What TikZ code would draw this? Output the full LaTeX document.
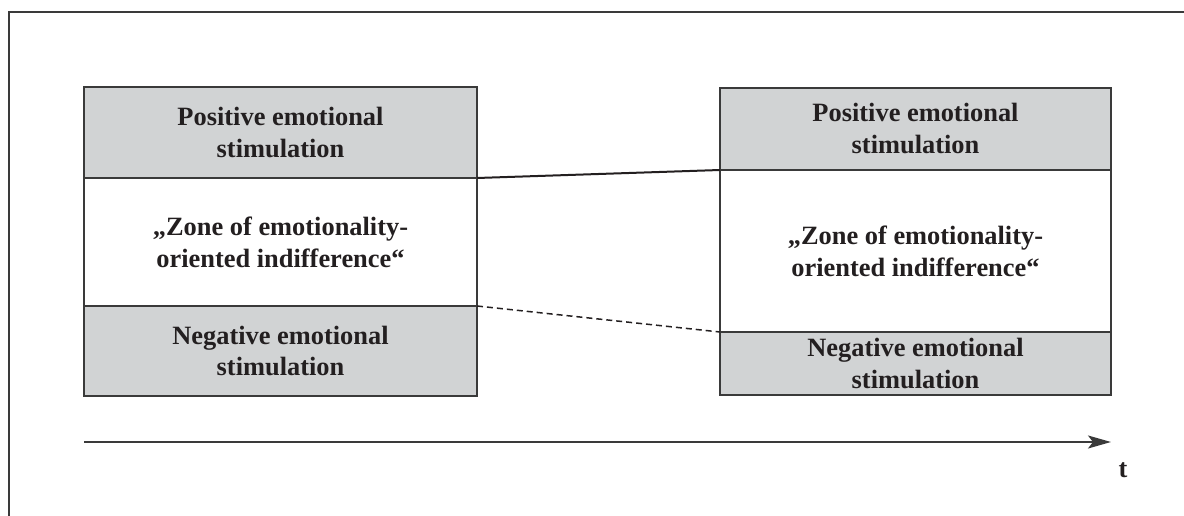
\documentclass[tikz,border=0pt]{standalone}
\usepackage{fontspec}
\setmainfont{Liberation Serif}
\usetikzlibrary{arrows.meta}
\definecolor{zonegray}{HTML}{D1D3D4}
\definecolor{edgegray}{HTML}{3A3A3A}
\definecolor{ink}{HTML}{231F20}
\tikzset{
  region/.style={draw=edgegray, line width=1.5pt, inner sep=0pt, outer sep=0pt,
    align=center, text=ink, font=\bfseries\fontsize{26.4}{32}\selectfont},
  stim/.style={region, fill=zonegray},
  zone/.style={region, fill=white},
  frameline/.style={draw=edgegray, line width=2pt},
  link/.style={draw=ink, line width=2pt},
  dlink/.style={draw=ink, line width=1.5pt, dash pattern=on 6pt off 4pt},
  timeaxis/.style={draw=edgegray, line width=2pt, -{Stealth[length=23pt,width=13pt,inset=5pt]}},
}
\begin{document}
\begin{tikzpicture}[x=1pt,y=-1pt]
\useasboundingbox (0,0) rectangle (1184,516);
\draw[frameline] (9,516) -- (9,12) -- (1184,12);
% left column
\node[stim, minimum width=393pt, minimum height=91pt] (lp) at (280.5,132.5) {Positive emotional\\stimulation};
\node[zone, minimum width=393pt, minimum height=128pt] (lz) at (280.5,242) {„Zone of emotionality-\\oriented indifference“};
\node[stim, minimum width=393pt, minimum height=90pt] (ln) at (280.5,351) {Negative emotional\\stimulation};
% right column
\node[stim, minimum width=391pt, minimum height=82pt] (rp) at (915.5,129) {Positive emotional\\stimulation};
\node[zone, minimum width=391pt, minimum height=162pt] (rz) at (915.5,251) {„Zone of emotionality-\\oriented indifference“};
\node[stim, minimum width=391pt, minimum height=63pt] (rn) at (915.5,363.5) {Negative emotional\\stimulation};
% connectors
\draw[link] (lp.south east) -- (rp.south west);
\draw[dlink] (lz.south east) -- (rz.south west);
% time axis
\coordinate (t0) at (84,442);
\coordinate (t1) at (1111,442);
\draw[timeaxis] (t0) -- (t1);
\node[text=ink, font=\bfseries\fontsize{26.4}{32}\selectfont] (tl) at (1123,470) {t};
\end{tikzpicture}
\end{document}
